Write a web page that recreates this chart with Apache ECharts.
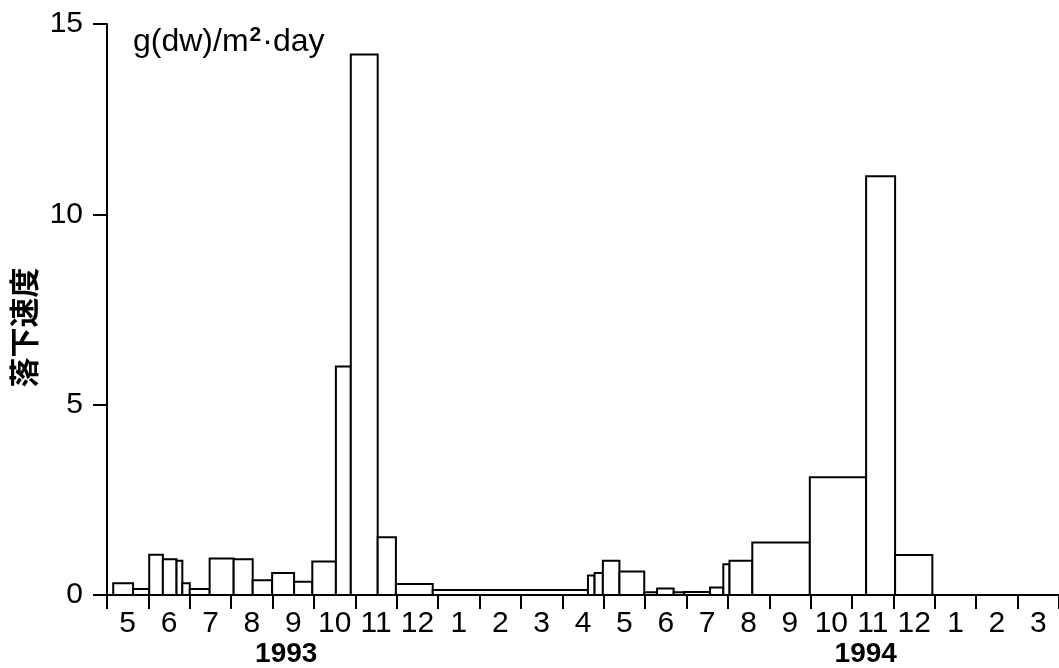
<!DOCTYPE html>
<html>
<head>
<meta charset="utf-8">
<style type="text/css">
html, body{margin: 0; padding: 0; background: #fff}
#chart{width: 1059px; height: 668px}
</style>
<script src="https://cdn.jsdelivr.net/npm/echarts@6/dist/echarts.min.js"></script>
</head>
<body>
<div id="chart"></div>
<script type="text/javascript">
// 月 (1993年5月 ～ 1995年3月)
var monthLabels = ['5','6','7','8','9','10','11','12','1','2','3','4','5','6','7','8','9','10','11','12','1','2','3'];
var yearLabels  = ['','','','','1993','','','','','','','','','','','','','','1994','','','',''];
// 各採取期間 (1993/5/1 からの月数) と落下速度
var barStart = [0.15,0.63,1.02,1.35,1.68,1.82,2.00,2.48,3.06,3.52,3.99,4.52,4.96,5.53,5.89,6.54,6.98,7.87,
                11.62,11.78,11.98,12.38,12.98,13.29,13.69,13.95,14.57,14.89,15.04,15.59,16.98,18.34,19.04];
var barEnd   = [0.63,1.02,1.35,1.68,1.82,2.00,2.48,3.06,3.52,3.99,4.52,4.96,5.53,5.89,6.54,6.98,7.87,11.62,
                11.78,11.98,12.38,12.98,13.29,13.69,13.95,14.57,14.89,15.04,15.59,16.98,18.34,19.04,19.94];
var barValue = [0.31,0.16,1.06,0.94,0.90,0.31,0.16,0.96,0.94,0.39,0.58,0.35,0.88,6.0,14.2,1.52,0.29,0.13,
                0.51,0.58,0.90,0.62,0.07,0.17,0.07,0.08,0.20,0.81,0.90,1.38,3.09,11.0,1.05];
var yTicks = {min: 0, max: 15, interval: 5};

var font = "'Liberation Sans', Arial, sans-serif";
var barData = barStart.map(function(s, i){ return [s, barEnd[i], barValue[i]]; });

var chart = echarts.init(document.getElementById('chart'));
var option = {
    backgroundColor: '#fff',
    animation: false,
    title: {
        text: 'g(dw)/m{s|2}·day',
        left: 128,
        top: 20,
        textStyle: {
            fontFamily: font, fontSize: 32, fontWeight: 'normal', color: '#000',
            rich: {s: {fontFamily: font, fontSize: 21, fontWeight: 'bold', color: '#000', verticalAlign: 'top', padding: [0, 1, 14, 1]}}
        }
    },
    grid: {left: 107, right: -3, top: 24, bottom: 72, containLabel: false},
    xAxis: [
        {
            type: 'category',
            data: monthLabels,
            boundaryGap: true,
            axisLine: {lineStyle: {color: '#000', width: 2}},
            axisTick: {show: true, interval: 0, length: 14, lineStyle: {color: '#000', width: 2}},
            axisLabel: {
                interval: 0,
                margin: 14,
                color: '#000',
                formatter: function(v, i){
                    var s = '{m|' + v + '}';
                    if (yearLabels[i]) s += '\n{y|' + yearLabels[i] + '}';
                    return s;
                },
                rich: {
                    m: {fontFamily: font, fontSize: 30, lineHeight: 30, color: '#000'},
                    y: {fontFamily: font, fontSize: 28, lineHeight: 30, fontWeight: 'bold', color: '#000', padding: [0, 14, 0, 0]}
                }
            },
            splitLine: {show: false}
        },
        {
            type: 'value',
            min: 0,
            max: monthLabels.length,
            show: false
        }
    ],
    yAxis: {
        type: 'value',
        min: yTicks.min,
        max: yTicks.max,
        interval: yTicks.interval,
        name: '落下速度',
        nameLocation: 'middle',
        nameRotate: 90,
        nameGap: 66,
        nameTextStyle: {fontFamily: "'Noto Sans CJK JP', sans-serif", fontSize: 30, fontWeight: 'bold', color: '#000', padding: [0, 36, 0, 0]},
        axisLine: {show: true, lineStyle: {color: '#000', width: 2}},
        axisTick: {show: true, length: 14, lineStyle: {color: '#000', width: 2}},
        axisLabel: {fontFamily: font, fontSize: 30, color: '#000', margin: 24},
        splitLine: {show: false}
    },
    series: [
        {
            type: 'custom',
            xAxisIndex: 1,
            yAxisIndex: 0,
            encode: {x: [0, 1], y: 2},
            data: barData,
            renderItem: function(params, api){
                var p0 = api.coord([api.value(0), api.value(2)]);
                var p1 = api.coord([api.value(1), 0]);
                return {
                    type: 'rect',
                    shape: {x: p0[0], y: p0[1], width: p1[0] - p0[0], height: p1[1] - p0[1]},
                    style: {fill: '#fff', stroke: '#000', lineWidth: 2}
                };
            }
        }
    ]
};
chart.setOption(option);
</script>
</body>
</html>
